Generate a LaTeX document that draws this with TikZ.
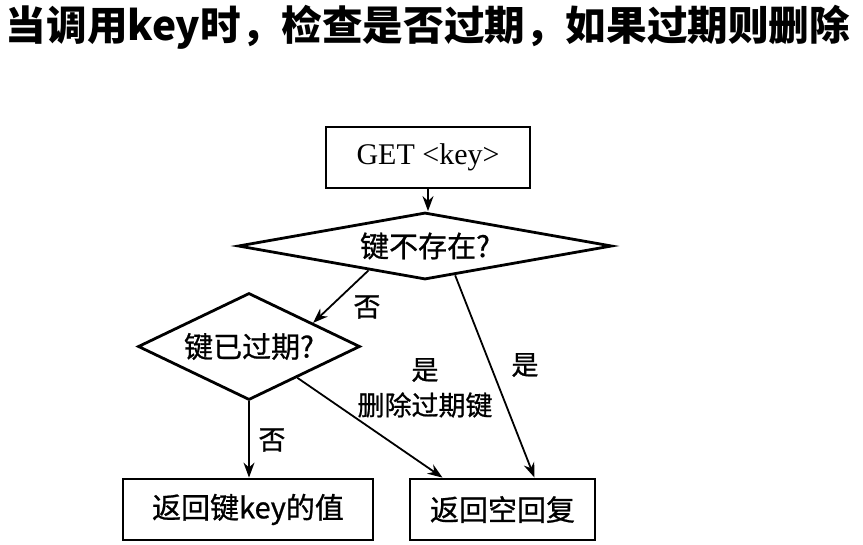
\documentclass[tikz,border=0pt]{standalone}
\usepackage{fontspec}
\setmainfont{Liberation Serif}
\newfontfamily\cjk{Noto Sans CJK SC}
\newfontfamily\cjkbox[FakeBold=0.8]{Noto Sans CJK SC}
\usetikzlibrary{arrows.meta,calc,positioning,shapes.geometric}

\tikzset{
  stepbox/.style={draw,line width=2.8pt,inner sep=0pt,minimum height=61pt,
    font=\cjkbox\fontsize{29}{34}\selectfont},
  query/.style={draw,diamond,line width=2.8pt,inner sep=0pt,
    font=\cjkbox\fontsize{29}{34}\selectfont},
  flow/.style={-{Stealth[length=15pt,width=11pt]},line width=1.8pt},
  lbl/.style={font=\cjkbox\fontsize{27}{32}\selectfont,inner sep=0pt},
}

\begin{document}
\begin{tikzpicture}[x=1pt,y=-1pt]
  \useasboundingbox[fill=white] (0,0) rectangle (863,545);
  \node (title) at (428,27) {\cjk\bfseries\fontsize{40.6}{48}\selectfont 当调用key时，检查是否过期，如果过期则删除};

  % flow chart
  \node[stepbox,minimum width=204pt,font=\fontsize{30}{34}\selectfont] (get) at (428,157.5) {GET <key>};
  \node[query,aspect=5.58,minimum width=374pt,minimum height=67pt] (exists) at (425,246) {键不存在?};
  \node[query,aspect=2.07,minimum width=222pt,minimum height=107pt] (expired) at (249,346.5) {键已过期?};
  \node[stepbox,minimum width=250pt] (value) at (248,509.5) {返回键key的值};
  \node[stepbox,minimum width=185pt] (empty) at (502.5,509.5) {返回空回复};

  \draw[flow] (get.south) -- (get.south |- exists.north);
  \draw[flow] ($(exists.south)!0.3!(exists.west)$) -- ($(expired.north)!0.57!(expired.east)$);
  \draw[flow] ($(exists.south)!0.16!(exists.east)$) -- ([xshift=32pt]empty.north);
  \draw[flow] (expired.south) -- (expired.south |- value.north);
  \draw[flow] ($(expired.south)!0.43!(expired.east)$) -- ([xshift=-60pt]empty.north);

  \node[lbl] (no1) at (367,307) {否};
  \node[lbl] (yes1) at (525,365) {是};
  \node[lbl] (no2) at (272,440) {否};
  \node[lbl] (yes2) at (425,370) {是};
  \node[lbl] (delete) at (425,405) {删除过期键};
\end{tikzpicture}
\end{document}
